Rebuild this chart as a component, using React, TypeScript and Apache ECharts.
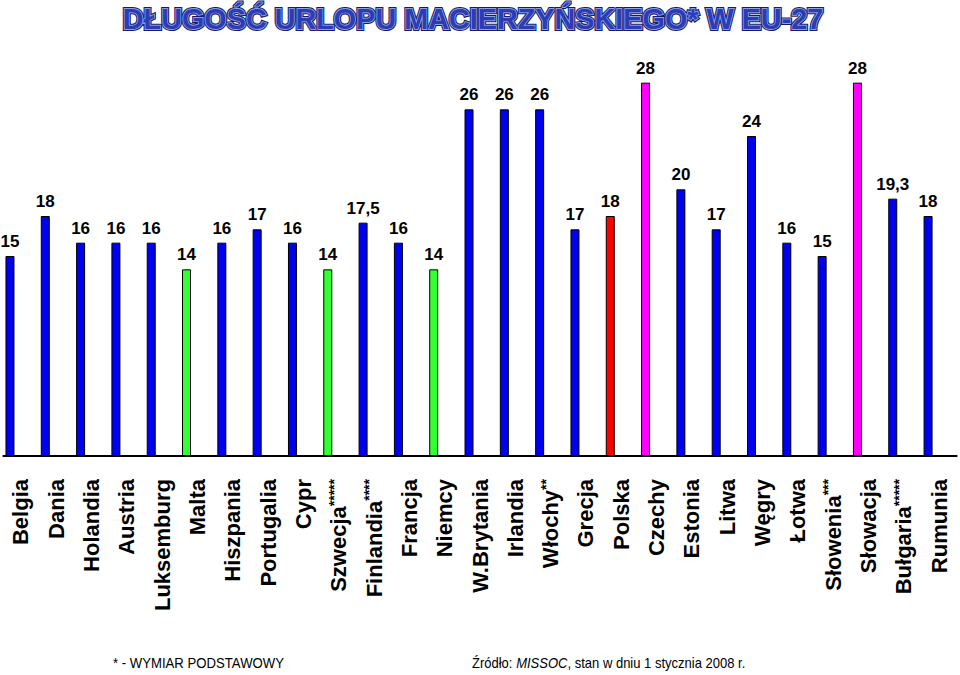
import React, { useEffect, useRef } from "react";
import * as echarts from "echarts";

const categories = [
  "Belgia", "Dania", "Holandia", "Austria", "Luksemburg", "Malta", "Hiszpania",
  "Portugalia", "Cypr", "Szwecja*****", "Finlandia****", "Francja", "Niemcy",
  "W.Brytania", "Irlandia", "Włochy**", "Grecja", "Polska", "Czechy", "Estonia",
  "Litwa", "Węgry", "Łotwa", "Słowenia***", "Słowacja", "Bułgaria*****", "Rumunia",
];
const weeks = [15, 18, 16, 16, 16, 14, 16, 17, 16, 14, 17.5, 16, 14, 26, 26, 26, 17, 18, 28, 20, 17, 24, 16, 15, 28, 19.3, 18];
// group: b = blue, g = green, r = red (Polska), m = magenta
const groups = ["b", "b", "b", "b", "b", "g", "b", "b", "b", "g", "b", "b", "g", "b", "b", "b", "b", "r", "m", "b", "b", "b", "b", "b", "m", "b", "b"];
const groupColors: Record<string, string> = { b: "#0000f0", g: "#33ff33", r: "#ff0000", m: "#ff00ff" };

const titleText = "DŁUGOŚĆ URLOPU MACIERZYŃSKIEGO* W EU-27";
const footnoteText = "* - WYMIAR PODSTAWOWY";

export default function App() {
  const ref = useRef<HTMLDivElement>(null);
  useEffect(() => {
    if (!ref.current) return;
    const chart = echarts.init(ref.current, undefined, { renderer: "svg" });
    const font = "'Liberation Sans', Arial, sans-serif";
    const titleCommon = {
      text: titleText,
      font: `bold 30px ${font}`,
      align: "center",
      verticalAlign: "middle",
    } as any;
    const tx = 473;
    const ty = 18;
    const tsx = 0.96;
    chart.setOption({
      animation: false,
      backgroundColor: "#ffffff",
      grid: { left: 3.3, right: 3.3, top: 56, height: 400, containLabel: false },
      xAxis: {
        type: "category",
        data: categories,
        axisLine: { lineStyle: { color: "#000", width: 2 } },
        axisTick: { length: 9, lineStyle: { color: "#000", width: 1.5 } },
        axisLabel: {
          interval: 0,
          rotate: 90,
          margin: 23,
          color: "#000",
          fontFamily: font,
          fontWeight: "bold",
          fontSize: 22,
          formatter: (v: string) => {
            const m = v.match(/^(.*?)(\*+)$/);
            if (m) return `{n|${m[1]}}{s|${m[2]}}`;
            return `{n|${v}}`;
          },
          rich: {
            n: { fontFamily: font, fontWeight: "bold", fontSize: 22, lineHeight: 24, color: "#000" },
            s: { fontFamily: font, fontWeight: "bold", fontSize: 14, color: "#000", verticalAlign: "top", lineHeight: 12 },
          },
        },
      },
      yAxis: { type: "value", min: 0, max: 30, show: false, splitLine: { show: false } },
      series: [
        {
          type: "bar",
          barWidth: 9,
          barGap: "144%",
          data: weeks.map((v, i) => ({
            value: v,
            itemStyle: { color: groupColors[groups[i]], borderColor: "#000", borderWidth: 1 },
          })),
          label: {
            show: true,
            position: "top",
            distance: 6,
            color: "#000",
            fontFamily: font,
            fontWeight: "bold",
            fontSize: 17,
            formatter: (p: any) => String(p.value).replace(".", ","),
          },
        },
        {
          type: "bar",
          barWidth: 9,
          silent: true,
          data: weeks.map(() => "-"),
        },
      ],
      graphic: [
        { type: "text", x: tx, y: ty, scaleX: tsx, style: { ...titleCommon, fill: "#161a66", stroke: "#161a66", lineWidth: 4 } },
        { type: "text", x: tx, y: ty, scaleX: tsx, style: { ...titleCommon, fill: "#8da0e6", stroke: "#8da0e6", lineWidth: 1.8 } },
        { type: "text", x: tx, y: ty, scaleX: tsx, style: { ...titleCommon, fill: "#2b3cb4" } },
        {
          type: "text",
          x: 113,
          y: 663,
          scaleX: 0.94,
          style: { text: footnoteText, font: `14px ${font}`, fill: "#000", verticalAlign: "middle" },
        },
        {
          type: "text",
          x: 472,
          y: 663,
          scaleX: 0.93,
          style: {
            text: "{a|Źródło: }{i|MISSOC}{a|, stan w dniu 1 stycznia 2008 r.}",
            rich: {
              a: { fontFamily: font, fontSize: 14, color: "#000" },
              i: { fontFamily: font, fontSize: 14, fontStyle: "italic", color: "#000" },
            },
            verticalAlign: "middle",
          },
        },
      ],
    });
    return () => chart.dispose();
  }, []);
  return <div ref={ref} style={{ position: "absolute", left: 0, top: 0, width: 960, height: 675 }} />;
}
